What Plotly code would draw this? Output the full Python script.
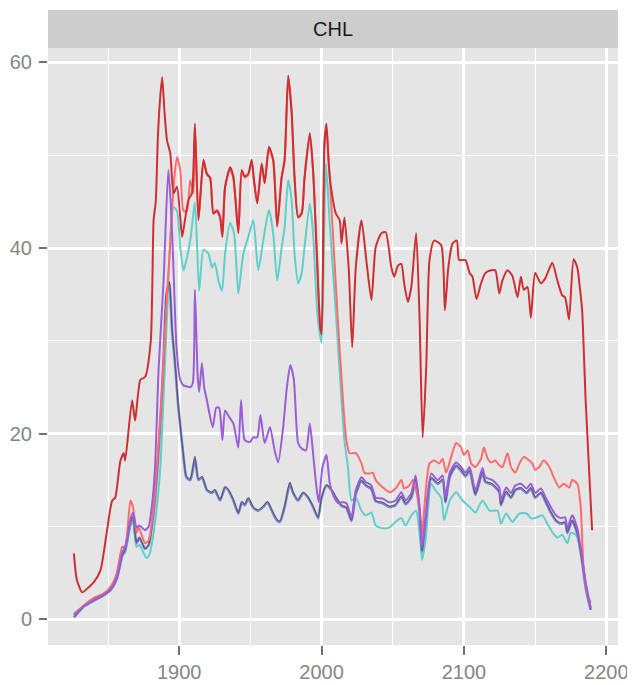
import plotly.graph_objects as go

# ---- data ----
darkred_x = [1826, 1828, 1831.8, 1836, 1840, 1844.7, 1849, 1852.9, 1855, 1858.7, 1861, 1862, 1866.9, 1869, 1872.7, 1876, 1880, 1882, 1883.5, 1885, 1886.5, 1888, 1889.5, 1891.4, 1893.7, 1896, 1898.4, 1900.7, 1902, 1904, 1906.5, 1908.9, 1911, 1913.5, 1917, 1919.4, 1921.7, 1924, 1926.4, 1928.7, 1930.3, 1932.2, 1935.7, 1938, 1941.5, 1943.9, 1946, 1948.5, 1950.9, 1952.5, 1954.8, 1957.9, 1960, 1963, 1966, 1968.8, 1971.9, 1974, 1976.5, 1978.9, 1981, 1983.5, 1986, 1988, 1991.7, 1994, 1996.8, 1999, 2000, 2002, 2003.4, 2005, 2006.9, 2010, 2012.7, 2014, 2016, 2019, 2021.5, 2024, 2028, 2031.4, 2035, 2038, 2042, 2045, 2049, 2051, 2053.6, 2056, 2058, 2060.6, 2063, 2066.4, 2068.8, 2071, 2073.5, 2075.8, 2079, 2084, 2086.6, 2089, 2092, 2095, 2096.6, 2101, 2104, 2106, 2108.8, 2112, 2115, 2119, 2122, 2124.8, 2127, 2130.6, 2134, 2137.6, 2140, 2142, 2144.6, 2147, 2150, 2154, 2157, 2162, 2165.6, 2169, 2171, 2173.8, 2177, 2179.6, 2181.5, 2183, 2185.5, 2190]
darkred_y = [7.1, 4.3, 2.9, 3.4, 4.0, 5.3, 9.3, 12.8, 13.1, 17.1, 17.9, 17.1, 23.6, 21.4, 25.8, 26.1, 30.0, 43.0, 45.0, 52.0, 56.0, 58.4, 55.0, 51.6, 50.2, 45.9, 46.6, 43.3, 41.2, 43.0, 45.2, 45.9, 53.4, 43.0, 49.5, 48.0, 47.6, 43.7, 44.0, 43.3, 41.2, 46.6, 48.7, 47.7, 41.6, 48.4, 47.7, 48.0, 49.5, 47.3, 44.8, 49.1, 47.0, 50.9, 49.5, 42.3, 47.6, 49.5, 58.6, 54.8, 47.6, 43.3, 43.7, 47.6, 52.4, 48.4, 38.7, 31.5, 30.7, 51.3, 53.4, 49.0, 46.2, 43.7, 43.0, 40.5, 43.3, 37.9, 29.3, 37.9, 43.0, 38.7, 34.4, 40.1, 41.6, 41.7, 37.9, 36.9, 38.1, 38.3, 36.2, 34.2, 35.8, 41.6, 32.5, 19.6, 27.2, 38.7, 40.8, 40.3, 33.3, 37.9, 40.5, 40.8, 38.7, 38.7, 37.3, 36.9, 34.5, 36.2, 37.3, 37.6, 37.6, 35.1, 36.5, 37.6, 37.0, 34.7, 36.9, 35.5, 35.8, 32.5, 37.3, 36.2, 36.7, 38.4, 36.5, 34.9, 34.7, 32.3, 38.8, 37.9, 35.6, 33.3, 23.5, 9.6]

salmon_x = [1826, 1830, 1833, 1840, 1847, 1851.7, 1856, 1860, 1862, 1865.7, 1867.5, 1870, 1871.5, 1876, 1878.5, 1882, 1885.5, 1888, 1891, 1893.5, 1896, 1898.4, 1900.7, 1903, 1905.4, 1907.7, 1910, 1911, 1913.5, 1917, 1919.4, 1921.7, 1924, 1926.4, 1928.7, 1930.3, 1932.2, 1935.7, 1938, 1941.5, 1943.9, 1946, 1948.5, 1950.9, 1952.5, 1954.8, 1957.9, 1960, 1963, 1966, 1968.8, 1971.9, 1974, 1976.5, 1978.9, 1981, 1983.5, 1986, 1988, 1991.7, 1994, 1996.8, 1999, 2000, 2002, 2003.4, 2005.7, 2011, 2015, 2017.4, 2019.6, 2024, 2028, 2030, 2033.7, 2036, 2038, 2043, 2047.7, 2052, 2056, 2058, 2061.6, 2064, 2066.4, 2068.8, 2070.6, 2072, 2075.8, 2079, 2082.8, 2085, 2087.5, 2091, 2094.5, 2098, 2100, 2102.6, 2105, 2108, 2112, 2114, 2116.7, 2119, 2122, 2124.8, 2127, 2130.6, 2133, 2136, 2139, 2142, 2145.8, 2148, 2150, 2152.8, 2156, 2160, 2163, 2167, 2170, 2174, 2176, 2179.6, 2182, 2184, 2186.6, 2189]
salmon_y = [0.6, 1.1, 1.5, 2.3, 2.8, 3.5, 4.9, 7.8, 7.8, 12.8, 12.1, 9.3, 9.9, 8.2, 8.5, 12.1, 19.0, 25.0, 34.0, 40.0, 46.6, 49.8, 48.4, 44.0, 44.0, 47.3, 45.9, 53.0, 43.2, 49.3, 47.9, 47.5, 43.8, 44.1, 43.4, 41.4, 46.5, 48.5, 47.5, 41.8, 48.2, 47.6, 47.9, 49.3, 47.2, 44.9, 49.0, 47.0, 50.7, 49.4, 42.5, 47.5, 49.4, 58.3, 54.6, 47.5, 43.4, 43.8, 47.5, 52.2, 48.3, 38.9, 31.7, 31.0, 51.0, 53.0, 47.6, 33.3, 23.6, 19.3, 17.9, 17.9, 16.8, 15.8, 15.7, 15.8, 15.0, 14.2, 13.7, 14.1, 15.0, 14.1, 14.4, 15.0, 13.9, 11.7, 9.1, 11.7, 16.8, 17.1, 16.8, 17.3, 15.8, 17.5, 19.0, 18.5, 17.7, 18.2, 16.8, 16.4, 17.3, 18.5, 17.3, 16.9, 17.1, 16.6, 16.4, 17.9, 16.4, 15.8, 16.8, 17.5, 17.1, 16.8, 16.1, 16.4, 17.1, 16.4, 15.3, 14.2, 14.6, 14.2, 15.0, 14.6, 12.1, 5.6, 2.8, 1.8]

turq_x = [1826, 1830, 1833, 1840, 1847, 1852, 1856, 1860, 1862, 1866, 1867.5, 1870, 1872, 1877, 1879, 1882, 1884.5, 1886.7, 1889, 1891.5, 1894, 1896, 1898.4, 1900.7, 1903, 1907.7, 1911, 1914, 1917, 1920.5, 1923, 1925, 1927.5, 1930, 1932.2, 1935.7, 1938.5, 1941.5, 1945, 1948.5, 1952, 1955.5, 1959, 1963, 1966, 1968.8, 1972, 1974, 1976.5, 1978.9, 1981, 1983.5, 1986, 1988, 1991.7, 1994, 1996.8, 1998.7, 2000, 2003, 2005.7, 2010, 2014, 2016, 2018.5, 2021, 2024, 2028, 2031, 2035, 2038, 2043, 2047.7, 2052, 2056, 2059, 2063, 2066.4, 2068.8, 2070.6, 2073, 2077, 2080, 2084, 2086, 2090, 2094.5, 2099, 2104, 2108, 2113, 2118, 2123.6, 2126, 2129.6, 2134, 2139, 2144, 2147, 2150, 2155, 2158.6, 2162, 2165.6, 2169, 2172.6, 2175, 2178.5, 2181, 2184, 2189]
turq_y = [0.4, 1.0, 1.4, 2.1, 2.7, 3.3, 4.4, 6.8, 7.2, 10.2, 10.5, 7.8, 8.0, 6.6, 7.0, 9.3, 12.5, 16.4, 24.0, 33.0, 42.0, 44.4, 44.0, 40.1, 37.6, 40.8, 44.9, 35.4, 39.8, 39.4, 37.9, 38.4, 36.5, 35.4, 39.4, 42.7, 41.6, 35.1, 39.4, 41.2, 43.0, 37.6, 40.8, 44.1, 41.6, 36.5, 40.1, 42.2, 47.3, 45.2, 39.4, 36.2, 37.3, 40.1, 44.8, 41.6, 33.3, 30.8, 29.8, 49.1, 42.7, 33.0, 23.6, 19.3, 16.4, 12.8, 13.1, 11.7, 11.2, 11.5, 10.1, 9.8, 9.9, 10.5, 10.9, 10.1, 11.2, 11.7, 9.3, 6.4, 8.5, 14.6, 13.9, 13.1, 10.7, 12.8, 13.7, 12.8, 12.1, 11.5, 12.8, 11.7, 11.7, 10.3, 11.4, 10.5, 11.4, 11.4, 10.9, 10.9, 11.2, 10.3, 9.4, 8.8, 9.1, 8.2, 9.3, 9.1, 8.2, 5.3, 1.3]

purple_x = [1826, 1830, 1833, 1840, 1847, 1852, 1856, 1860, 1862, 1866, 1867.5, 1870, 1872, 1876, 1878.5, 1881, 1883, 1885.5, 1889, 1892.3, 1894, 1896, 1898, 1900.7, 1903, 1905, 1907.7, 1909.5, 1911, 1913, 1914, 1915.9, 1917.5, 1919.4, 1923.5, 1926, 1928, 1930.3, 1932.2, 1935, 1938, 1941.5, 1943.4, 1946, 1949.7, 1952, 1954.8, 1957, 1960, 1963.7, 1967, 1969.5, 1973, 1975.4, 1978, 1980.5, 1983.5, 1986, 1989, 1991.7, 1994, 1996.4, 1998, 2000.6, 2003.4, 2005.7, 2009, 2012, 2014, 2017.4, 2021, 2024, 2028, 2031, 2035, 2038, 2043, 2047.7, 2052, 2056, 2059, 2063, 2066, 2068.8, 2070.6, 2073, 2077, 2081.6, 2085, 2087, 2090, 2094.5, 2098, 2101, 2104, 2108, 2113, 2115, 2120, 2124.8, 2126, 2129.6, 2133, 2136, 2140, 2144, 2147, 2150, 2154, 2157.5, 2161, 2164.6, 2168, 2171, 2172.6, 2176, 2179.6, 2183, 2185.5, 2189]
purple_y = [0.4, 1.0, 1.4, 2.1, 2.7, 3.3, 4.5, 7.2, 7.8, 10.9, 11.5, 9.9, 10.1, 9.6, 10.0, 12.5, 16.4, 27.0, 36.5, 48.4, 45.0, 37.5, 29.5, 25.8, 25.2, 25.1, 25.0, 25.4, 35.5, 26.0, 24.5, 27.6, 25.0, 23.6, 20.7, 22.8, 22.8, 19.3, 22.5, 21.8, 21.1, 18.5, 23.6, 19.3, 19.1, 19.6, 19.6, 22.0, 19.0, 20.7, 18.2, 16.9, 20.7, 24.7, 27.4, 25.8, 19.0, 18.4, 18.2, 21.1, 17.9, 14.2, 12.6, 16.4, 17.7, 14.7, 13.1, 12.5, 12.6, 12.5, 11.0, 13.9, 15.3, 14.8, 14.4, 13.1, 13.0, 12.6, 12.8, 13.7, 12.8, 13.6, 15.5, 12.1, 7.8, 11.0, 15.7, 15.0, 15.5, 13.1, 15.8, 16.9, 16.4, 15.8, 16.4, 13.9, 16.3, 15.3, 15.0, 14.2, 12.8, 14.2, 13.6, 14.4, 14.6, 14.1, 14.6, 13.6, 14.1, 13.1, 12.1, 11.2, 10.9, 11.0, 9.8, 11.2, 9.8, 6.7, 3.9, 1.2]

slate_x = [1826, 1830, 1833, 1840, 1847, 1852, 1856, 1860, 1862, 1866, 1867.5, 1870, 1872, 1876, 1878.5, 1882, 1885, 1887, 1889, 1891, 1893, 1895, 1897, 1899, 1900.7, 1903, 1905, 1907.7, 1909, 1911, 1913.5, 1916, 1919.4, 1923, 1925, 1928.7, 1932.2, 1934.5, 1938, 1941.5, 1944, 1946, 1948.5, 1952, 1955.5, 1959, 1962, 1965, 1968.4, 1970.7, 1974, 1977.7, 1980, 1983.5, 1987, 1990.5, 1994, 1997.5, 2000, 2003.4, 2007, 2010, 2012.7, 2014, 2017.4, 2021, 2024, 2028, 2031, 2035, 2038, 2043, 2047.7, 2052, 2056, 2059, 2063, 2066, 2068.8, 2070.6, 2073, 2077, 2081.6, 2085, 2087, 2090, 2094.5, 2098, 2101, 2104, 2108, 2113, 2115, 2120, 2124.8, 2126, 2129.6, 2133, 2136, 2140, 2144, 2147, 2150, 2154, 2157.5, 2161, 2164.6, 2168, 2171, 2172.6, 2176, 2179.6, 2183, 2185.5, 2189]
slate_y = [0.2, 0.9, 1.4, 2.0, 2.6, 3.2, 4.3, 6.9, 7.5, 10.6, 11.0, 8.2, 8.8, 7.6, 8.0, 11.5, 17.0, 22.0, 28.0, 35.0, 36.2, 31.0, 27.6, 23.5, 20.8, 17.5, 15.3, 15.0, 15.7, 17.3, 15.0, 15.3, 13.9, 13.6, 13.9, 12.8, 14.2, 13.9, 12.8, 11.4, 12.6, 12.3, 13.0, 12.0, 11.7, 12.1, 12.6, 11.7, 10.7, 10.5, 12.1, 14.6, 13.6, 12.8, 13.6, 13.1, 12.1, 10.9, 13.1, 14.4, 13.9, 13.1, 12.5, 12.2, 12.0, 10.6, 13.5, 14.9, 14.4, 14.0, 12.7, 12.5, 12.1, 12.3, 13.2, 12.4, 13.1, 15.0, 11.6, 7.3, 10.5, 15.2, 14.6, 15.0, 12.6, 15.3, 16.5, 16.0, 15.4, 16.0, 13.4, 15.8, 14.8, 14.5, 13.7, 12.3, 13.7, 13.1, 13.9, 14.1, 13.6, 14.1, 13.1, 13.6, 12.6, 11.5, 10.6, 10.3, 10.4, 9.3, 10.6, 9.2, 6.2, 3.4, 1.0]

black_x = slate_x
black_y = [0.3, 0.9, 1.4, 2.0, 2.6, 3.2, 4.3, 6.9, 7.5, 10.6, 11.0, 8.3, 8.8, 7.6, 8.0, 11.6, 17.2, 22.3, 28.3, 35.2, 36.4, 31.2, 27.8, 23.6, 20.9, 17.6, 15.4, 15.1, 15.8, 17.6, 15.1, 15.4, 14.0, 13.7, 14.0, 12.9, 14.3, 14.0, 12.9, 11.5, 12.7, 12.4, 13.1, 12.1, 11.8, 12.2, 12.7, 11.8, 10.8, 10.6, 12.2, 14.8, 13.7, 12.9, 13.7, 13.2, 12.2, 11.0, 13.2, 14.5, 14.0, 13.2, 12.6, 12.3, 12.1, 10.7, 13.6, 15.0, 14.5, 14.1, 12.8, 12.6, 12.2, 12.4, 13.3, 12.5, 13.2, 15.1, 11.7, 7.4, 10.6, 15.3, 14.7, 15.1, 12.7, 15.4, 16.6, 16.1, 15.5, 16.1, 13.5, 15.9, 14.9, 14.6, 13.8, 12.4, 13.8, 13.2, 14.0, 14.2, 13.7, 14.2, 13.2, 13.7, 12.7, 11.6, 10.7, 10.4, 10.5, 9.4, 10.7, 9.3, 6.3, 3.5, 1.1]

x_ticks = [1900, 2000, 2100, 2200]
x_minor = [1850, 1950, 2050, 2150]
y_ticks = [0, 20, 40, 60]
y_minor = [10, 30, 50]
panel_label = "CHL"

series = [
    (turq_x, turq_y, "#5FCFCA", 2.0, 1.0),
    (slate_x, slate_y, "#8082C8", 2.6, 1.0),
    (black_x, black_y, "#2A3838", 0.8, 0.75),
    (salmon_x, salmon_y, "#FF6B6B", 2.0, 1.0),
    (purple_x, purple_y, "#9A5FD6", 2.0, 1.0),
    (darkred_x, darkred_y, "#CD3033", 2.0, 1.0),
]

fig = go.Figure()
for xs, ys, col, w, op in series:
    fig.add_trace(go.Scatter(x=xs, y=ys, mode="lines", opacity=op,
                             line=dict(color=col, width=w, shape="spline", smoothing=0.6),
                             showlegend=False, hoverinfo="skip"))

FONT = "Liberation Sans Narrow, Arial Narrow, Liberation Sans, Arial, sans-serif"
TICKFONT = dict(family=FONT, size=20, color="#858585")

# the page body adds an 8px offset, so the figure is sized/margined to compensate
W, H = 627, 677
ML, MR, MT, MB = 40, 17, 40, 40
fig.update_layout(
    width=W, height=H,
    margin=dict(l=ML, r=MR, t=MT, b=MB, autoexpand=False),
    plot_bgcolor="#E5E5E5", paper_bgcolor="white",
    showlegend=False,
)
fig.update_xaxes(
    range=[1807.8, 2208.2], tickmode="array", tickvals=x_ticks,
    ticktext=[str(v) for v in x_ticks],
    ticks="outside", ticklen=9, tickwidth=2, tickcolor="#707070",
    showgrid=True, gridcolor="white", gridwidth=2.5,
    minor=dict(tickvals=x_minor, showgrid=True, gridcolor="white", gridwidth=1.2, ticks=""),
    zeroline=False, showline=False, tickfont=TICKFONT, ticklabelstandoff=0,
)
fig.update_yaxes(
    range=[-2.77, 61.55], tickmode="array", tickvals=y_ticks,
    ticktext=[str(v) for v in y_ticks],
    ticks="outside", ticklen=8, tickwidth=2, tickcolor="#707070",
    showgrid=True, gridcolor="white", gridwidth=2.5,
    minor=dict(tickvals=y_minor, showgrid=True, gridcolor="white", gridwidth=1.2, ticks=""),
    zeroline=False, showline=False, tickfont=TICKFONT, ticklabelstandoff=3,
)

panel_h = H - MT - MB
fig.add_shape(type="rect", xref="paper", yref="paper",
              x0=0, x1=1, y0=1, y1=1 + 38 / panel_h,
              fillcolor="#CDCDCD", line=dict(width=0), layer="below")
fig.add_annotation(text=panel_label, xref="paper", yref="paper",
                   x=0.5, y=1 + 19 / panel_h, xanchor="center", yanchor="middle",
                   showarrow=False, font=dict(family=FONT, size=20, color="#1A1A1A"))

fig.write_html("out.html")
